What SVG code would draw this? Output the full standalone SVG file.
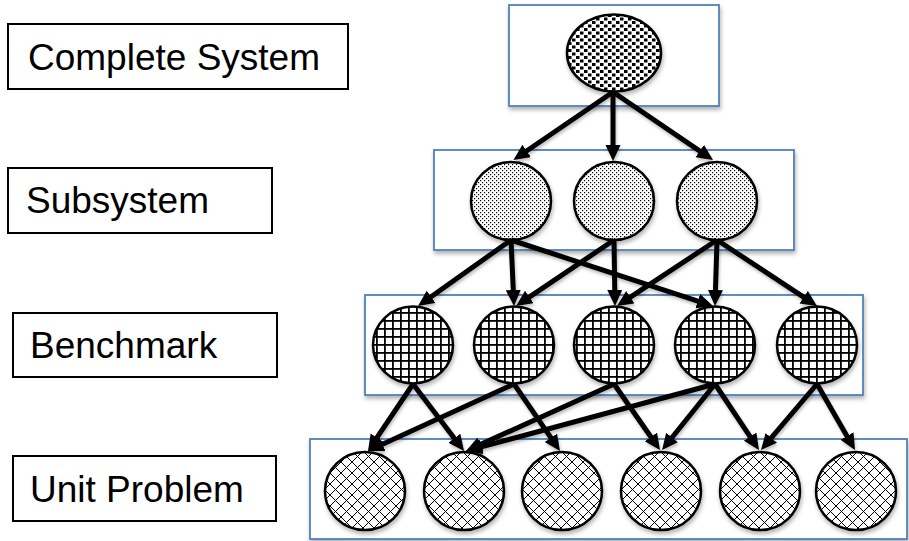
<svg xmlns="http://www.w3.org/2000/svg" width="909" height="541" viewBox="0 0 909 541">
  <style>
    .label rect { fill: #ffffff; stroke: #000000; stroke-width: 2; }
    .label text { font-family: "Liberation Sans", Arial, sans-serif; font-size: 37px; fill: #000000; }
    .tier { fill: #ffffff; stroke: #4f81bd; stroke-width: 1.8; filter: url(#shadow); }
    .node { stroke: #000000; stroke-width: 2.5; filter: url(#shadow); }
    .sys { fill: url(#confetti); }
    .sub { fill: url(#dots); }
    .bench { fill: url(#grid); }
    .unit { fill: url(#diamonds); }
    #connectors line { stroke: #000000; stroke-width: 5; fill: none; marker-end: url(#head); }
  </style>
  <defs>
    <filter id="shadow" x="-20%" y="-20%" width="140%" height="150%">
      <feDropShadow dx="1" dy="3" stdDeviation="2" flood-color="#000000" flood-opacity="0.3"/>
    </filter>
    <filter id="lineShadow" x="-10%" y="-10%" width="120%" height="130%">
      <feDropShadow dx="1" dy="2.5" stdDeviation="1.5" flood-color="#000000" flood-opacity="0.25"/>
    </filter>
    <marker id="head" markerUnits="userSpaceOnUse" markerWidth="18" markerHeight="18" refX="9" refY="7.5" orient="auto">
      <path d="M0,0 L16,7.5 L0,15 Z" fill="#000000"/>
    </marker>
    <!-- large confetti squares -->
    <pattern id="confetti" patternUnits="userSpaceOnUse" width="8" height="7">
      <rect width="8" height="7" fill="#ffffff"/>
      <rect x="0" y="0" width="3.5" height="3" fill="#000000"/>
      <rect x="4" y="3.5" width="3.5" height="3" fill="#000000"/>
    </pattern>
    <!-- fine dots -->
    <pattern id="dots" patternUnits="userSpaceOnUse" width="4" height="4">
      <rect width="4" height="4" fill="#ffffff"/>
      <rect x="0" y="0" width="1.2" height="1.2" fill="#000000"/>
      <rect x="2" y="2" width="1.2" height="1.2" fill="#000000"/>
    </pattern>
    <!-- square grid -->
    <pattern id="grid" patternUnits="userSpaceOnUse" width="8" height="8">
      <rect width="8" height="8" fill="#ffffff"/>
      <rect x="0" y="0" width="8" height="1.8" fill="#000000"/>
      <rect x="0" y="0" width="1.8" height="8" fill="#000000"/>
    </pattern>
    <!-- diagonal cross-hatch -->
    <pattern id="diamonds" patternUnits="userSpaceOnUse" width="11" height="11">
      <rect width="11" height="11" fill="#ffffff"/>
      <path d="M0,0 L11,11 M11,0 L0,11" stroke="#000000" stroke-width="1"/>
    </pattern>
  </defs>

  <!-- level labels -->
  <g id="label-complete" class="label">
    <rect x="8" y="24" width="340" height="65"/>
    <text x="28" y="70">Complete System</text>
  </g>
  <g id="label-subsystem" class="label">
    <rect x="8" y="168" width="264" height="65"/>
    <text x="26" y="213">Subsystem</text>
  </g>
  <g id="label-benchmark" class="label">
    <rect x="13" y="313" width="264" height="64"/>
    <text x="30" y="358">Benchmark</text>
  </g>
  <g id="label-unit" class="label">
    <rect x="13" y="456" width="263" height="65"/>
    <text x="30" y="502">Unit Problem</text>
  </g>

  <!-- tier frames -->
  <g id="tiers">
    <rect class="tier" x="509" y="5" width="210" height="101"/>
    <rect class="tier" x="434" y="150" width="360" height="100"/>
    <rect class="tier" x="365" y="295" width="498" height="100"/>
    <rect class="tier" x="310" y="439" width="597" height="100"/>
  </g>

  <!-- complete system -->
  <g id="system"><ellipse class="node sys" cx="614" cy="53" rx="47" ry="38.5"/></g>

  <!-- subsystems -->
  <g id="sub1"><ellipse class="node sub" cx="511" cy="201" rx="40" ry="39"/></g>
  <g id="sub2"><ellipse class="node sub" cx="614" cy="201" rx="40" ry="39"/></g>
  <g id="sub3"><ellipse class="node sub" cx="717" cy="201" rx="40" ry="39"/></g>

  <!-- benchmarks -->
  <g id="bench1"><ellipse class="node bench" cx="413" cy="345" rx="40" ry="38.5"/></g>
  <g id="bench2"><ellipse class="node bench" cx="514" cy="345" rx="40" ry="38.5"/></g>
  <g id="bench3"><ellipse class="node bench" cx="614" cy="345" rx="40" ry="38.5"/></g>
  <g id="bench4"><ellipse class="node bench" cx="715" cy="345" rx="40" ry="38.5"/></g>
  <g id="bench5"><ellipse class="node bench" cx="817" cy="345" rx="40" ry="38.5"/></g>

  <!-- unit problems -->
  <g id="unit1"><ellipse class="node unit" cx="365" cy="491" rx="40" ry="39"/></g>
  <g id="unit2"><ellipse class="node unit" cx="464" cy="491" rx="40" ry="39"/></g>
  <g id="unit3"><ellipse class="node unit" cx="562" cy="491" rx="40" ry="39"/></g>
  <g id="unit4"><ellipse class="node unit" cx="661" cy="491" rx="40" ry="39"/></g>
  <g id="unit5"><ellipse class="node unit" cx="760" cy="491" rx="40" ry="39"/></g>
  <g id="unit6"><ellipse class="node unit" cx="856" cy="491" rx="40" ry="39"/></g>

  <!-- connectors (line end sits 7px short of the arrow tip) -->
  <g id="connectors" filter="url(#lineShadow)">
    <!-- system to subsystems -->
    <line x1="613" y1="92" x2="519.2" y2="156"/>
    <line x1="613" y1="92" x2="613" y2="154"/>
    <line x1="613" y1="92" x2="707.2" y2="156.1"/>
    <!-- subsystems to benchmarks -->
    <line x1="511" y1="240" x2="423.7" y2="302"/>
    <line x1="511" y1="240" x2="513.7" y2="299"/>
    <line x1="511" y1="240" x2="706.3" y2="303.8"/>
    <line x1="614" y1="240" x2="521.8" y2="302.1"/>
    <line x1="614" y1="240" x2="614.9" y2="299"/>
    <line x1="717" y1="240" x2="622.8" y2="302.1"/>
    <line x1="717" y1="240" x2="715.2" y2="299"/>
    <line x1="717" y1="240" x2="811.2" y2="302.1"/>
    <!-- benchmarks to unit problems -->
    <line x1="413" y1="384" x2="371.9" y2="445.2"/>
    <line x1="413" y1="384" x2="459.8" y2="445.4"/>
    <line x1="514" y1="384" x2="374.3" y2="448"/>
    <line x1="514" y1="384" x2="556" y2="445.2"/>
    <line x1="614" y1="384" x2="472.4" y2="448.1"/>
    <line x1="614" y1="384" x2="656" y2="444.3"/>
    <line x1="715" y1="384" x2="472.8" y2="449.2"/>
    <line x1="715" y1="384" x2="666.4" y2="444.5"/>
    <line x1="715" y1="384" x2="755.1" y2="444.2"/>
    <line x1="817" y1="384" x2="765.5" y2="444.7"/>
    <line x1="817" y1="384" x2="851.5" y2="443.9"/>
  </g>
</svg>
